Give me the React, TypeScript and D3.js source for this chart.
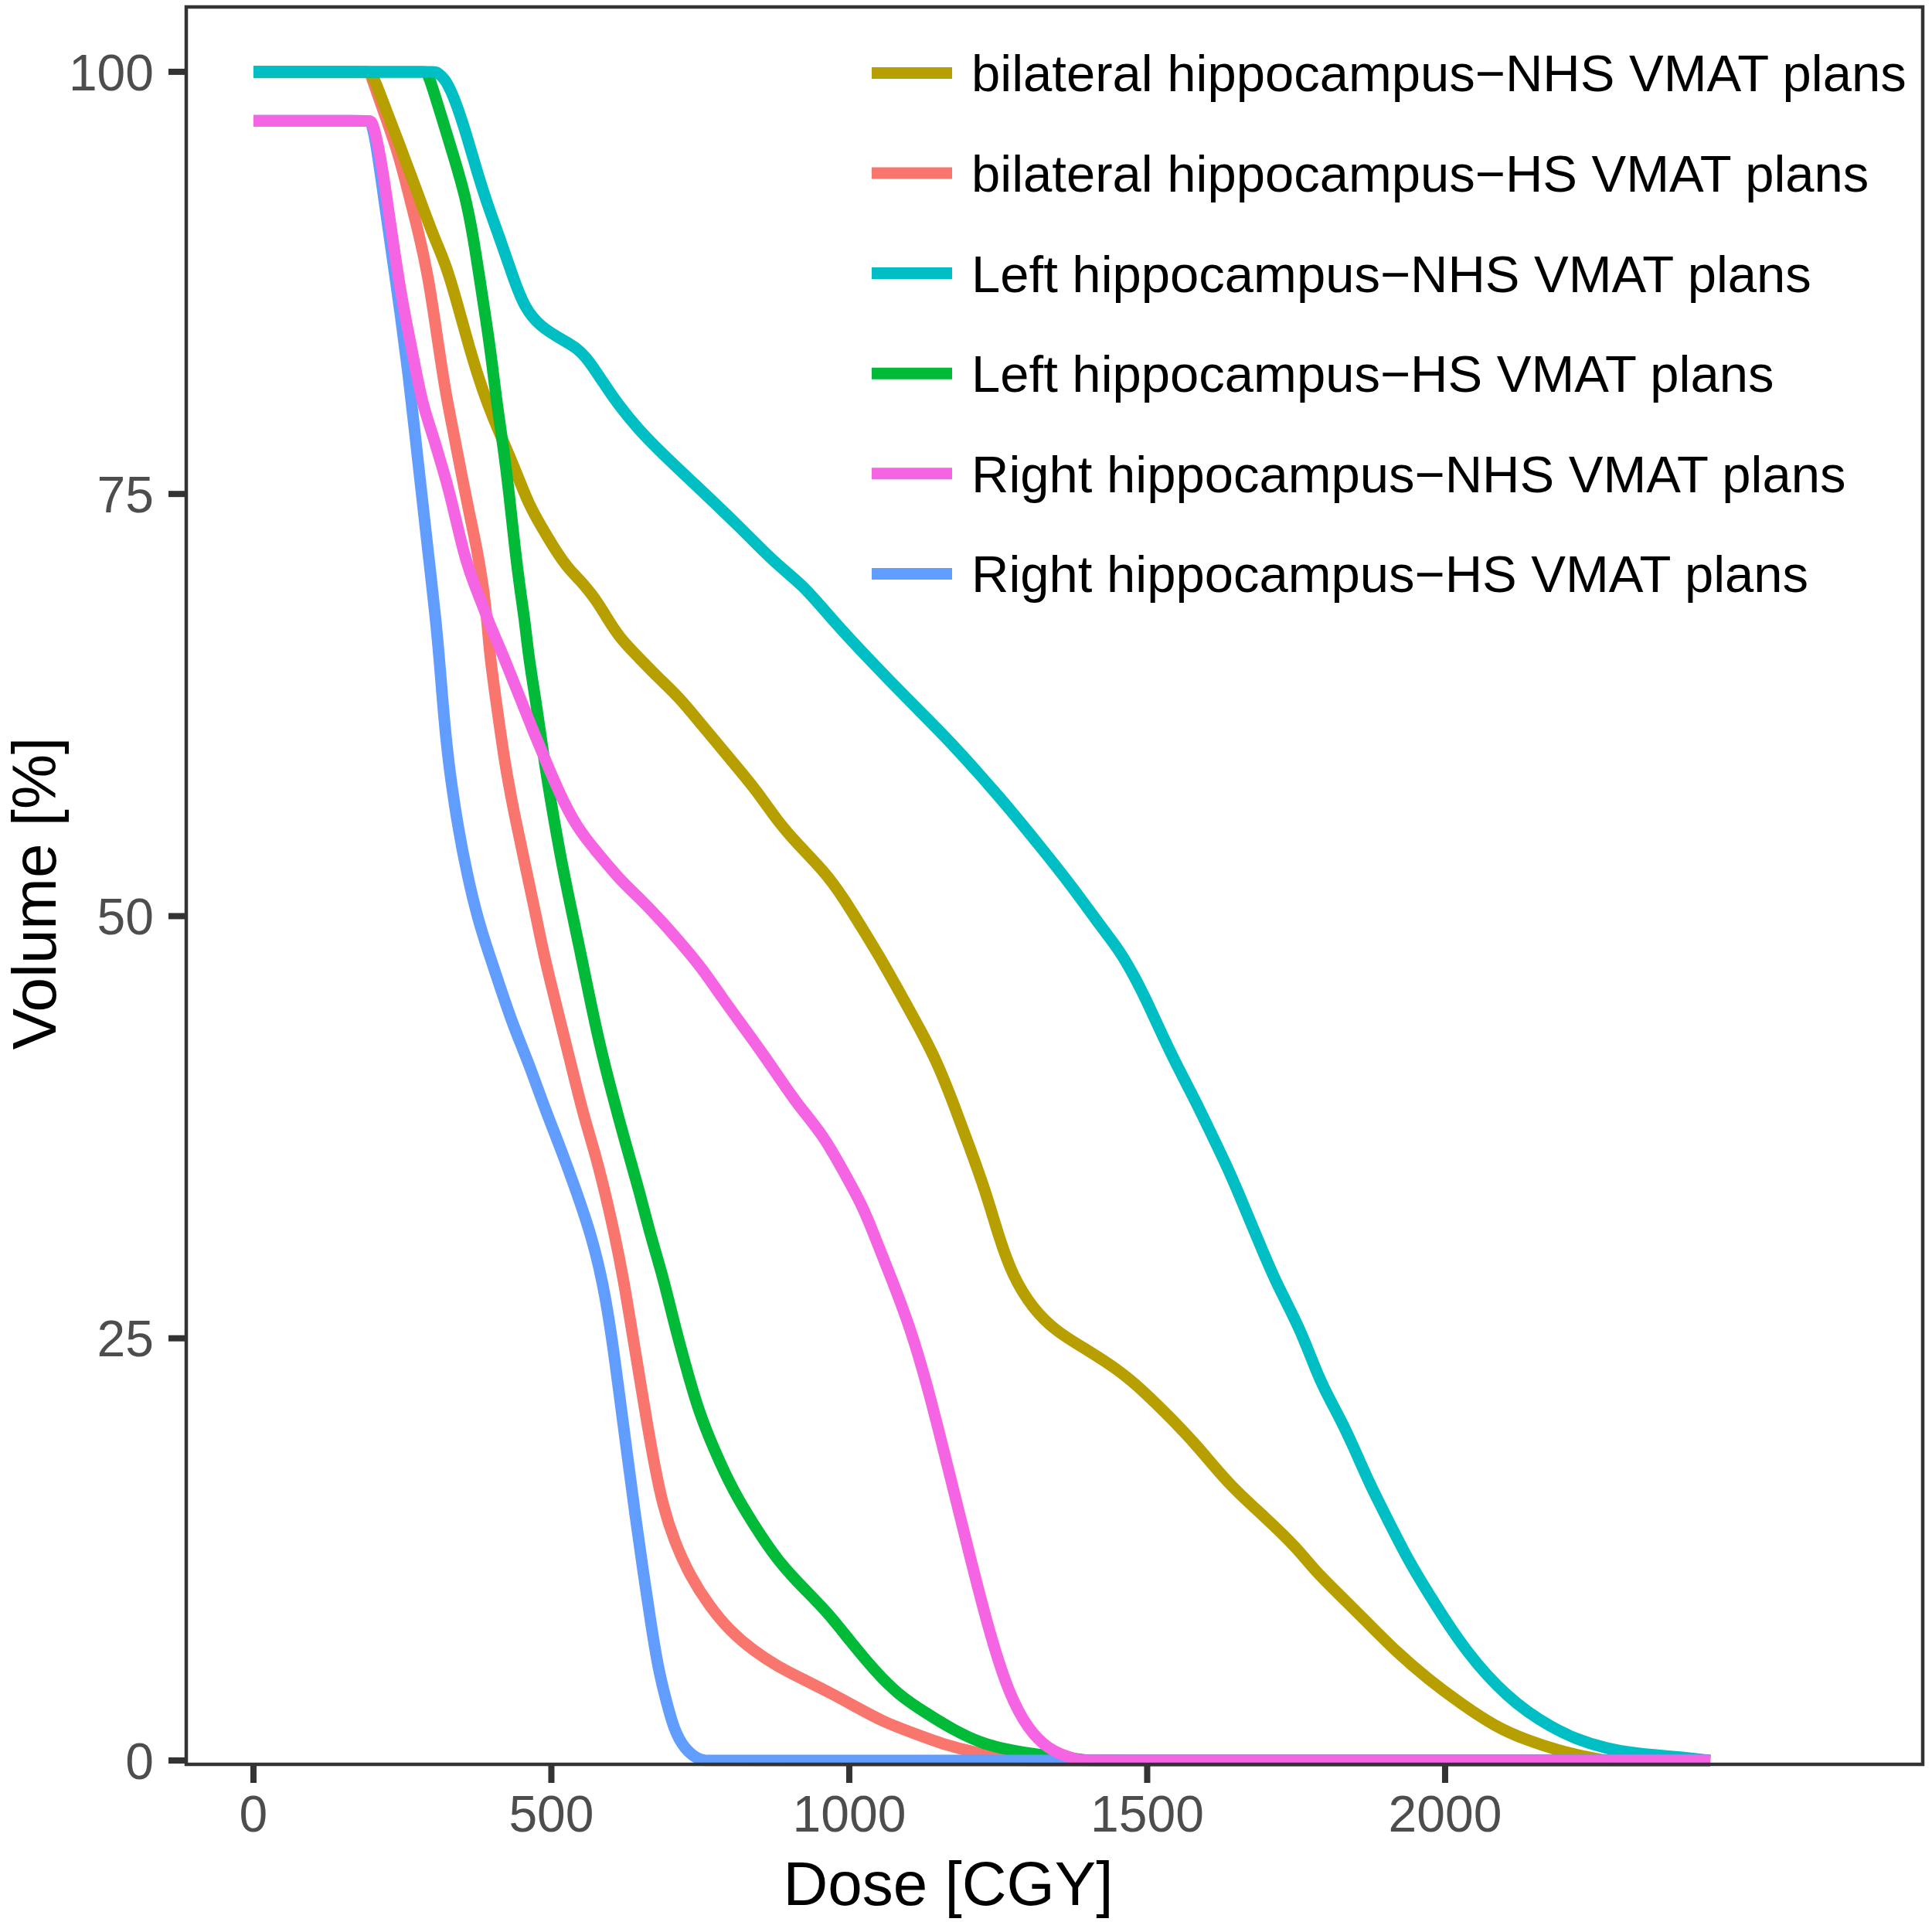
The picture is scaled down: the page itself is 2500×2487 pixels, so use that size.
import * as d3 from 'd3';

type Pt = [number, number];

// dose [cGy], volume [%]
const bilateralHS: Pt[] = [
  [0, 100], [195, 100], [220, 97.5], [240, 95.5], [254, 93.7], [266, 92.0], [279, 90.2], [293, 87.9],
  [303, 85.6], [313, 83.2], [323, 80.9], [336, 78.6], [349, 76.2], [362, 73.9], [376, 71.6],
  [386, 69.4], [392, 67.6], [397, 65.3], [409, 62.3], [422, 59.0], [438, 56.0], [455, 53.2],
  [472, 50.4], [488, 47.6], [505, 45.2], [521, 42.9], [538, 40.5], [554, 38.2], [574, 35.9],
  [591, 33.5], [607, 31.0], [620, 28.7], [634, 25.7], [647, 22.9], [660, 20.1], [673, 17.5],
  [687, 15.1], [706, 13.0], [733, 10.9], [766, 9.1], [799, 7.7], [839, 6.5], [878, 5.6],
  [923, 4.8], [963, 4.1], [1010, 3.2], [1056, 2.3], [1109, 1.6], [1162, 0.9], [1215, 0.44],
  [1254, 0.2], [1290, 0], [2445, 0],
];

const bilateralNHS: Pt[] = [
  [0, 100], [195, 100], [203, 99.6], [223, 97.7], [243, 95.9], [263, 94.0], [283, 92.1],
  [303, 90.2], [323, 88.6], [342, 86.3], [362, 83.7], [382, 81.4], [402, 79.5], [422, 77.9],
  [442, 76.2], [462, 74.4], [481, 73.2], [508, 71.6], [528, 70.6], [548, 69.9], [574, 68.8],
  [591, 67.8], [614, 66.5], [647, 65.3], [680, 64.1], [713, 63.0], [746, 61.6], [779, 60.2],
  [812, 58.8], [845, 57.4], [878, 55.7], [912, 54.3], [957, 52.7], [990, 51.1], [1023, 49.2],
  [1056, 47.3], [1089, 45.2], [1122, 43.1], [1148, 41.3], [1175, 38.9], [1201, 36.4],
  [1228, 33.8], [1251, 31.0], [1274, 28.7], [1307, 26.8], [1347, 25.4], [1400, 24.3],
  [1453, 23.1], [1493, 21.9], [1539, 20.3], [1585, 18.6], [1638, 16.3], [1698, 14.4],
  [1751, 12.6], [1780, 11.3], [1820, 9.9], [1866, 8.3], [1919, 6.4], [1972, 4.8], [2025, 3.4],
  [2084, 2.0], [2137, 1.2], [2190, 0.6], [2230, 0.25], [2270, 0], [2445, 0],
];

const leftHS: Pt[] = [
  [0, 100], [290, 100], [296, 99.6], [316, 97.3], [336, 95.0], [356, 92.6], [369, 90.2],
  [379, 87.9], [389, 85.6], [399, 83.2], [409, 80.2], [419, 77.9], [429, 75.1], [438, 72.0],
  [448, 69.2], [455, 67.6], [462, 65.3], [475, 62.5], [488, 59.2], [501, 56.4], [515, 53.6],
  [531, 50.8], [548, 48.0], [564, 45.2], [581, 42.4], [601, 39.6], [624, 36.6], [647, 33.8],
  [667, 31.0], [687, 28.7], [706, 25.9], [726, 23.3], [746, 20.8], [773, 18.4], [806, 15.9],
  [839, 14.0], [878, 11.9], [923, 10.2], [963, 8.8], [1003, 7.0], [1043, 5.3], [1082, 3.9],
  [1129, 2.8], [1175, 1.8], [1228, 0.9], [1294, 0.44], [1360, 0.2], [1400, 0], [2445, 0],
];

const leftNHS: Pt[] = [
  [0, 100], [306, 100], [323, 99.6], [342, 98.0], [359, 96.1], [376, 94.0], [395, 91.9],
  [415, 90.0], [435, 87.9], [455, 86.0], [482, 84.9], [515, 84.2], [541, 83.7], [561, 83.0],
  [587, 81.6], [614, 80.2], [647, 78.8], [680, 77.6], [746, 75.4], [812, 73.2], [878, 70.8],
  [923, 69.6], [970, 67.6], [1036, 65.1], [1102, 62.7], [1162, 60.6], [1221, 58.3],
  [1268, 56.4], [1321, 54.1], [1373, 51.8], [1426, 49.2], [1453, 48.0], [1479, 46.4],
  [1499, 45.0], [1526, 42.9], [1552, 41.0], [1579, 39.2], [1605, 37.3], [1631, 35.4],
  [1651, 33.8], [1684, 31.0], [1717, 28.2], [1757, 25.6], [1790, 22.4], [1822, 20.4],
  [1846, 18.6], [1873, 16.4], [1906, 14.1], [1939, 11.8], [1972, 9.9], [2005, 8.05],
  [2038, 6.4], [2071, 5.0], [2104, 3.85], [2137, 2.9], [2177, 2.0], [2217, 1.3], [2270, 0.7],
  [2323, 0.4], [2382, 0.24], [2420, 0.1], [2445, 0],
];

const rightHS: Pt[] = [
  [0, 97.1], [197, 97.1], [205, 96.0], [215, 93.5], [230, 89.8], [247, 85.6], [260, 82.1],
  [271, 78.6], [282, 75.1], [293, 71.6], [306, 67.6], [313, 64.8], [320, 61.6], [329, 58.6],
  [343, 55.3], [359, 52.4], [376, 49.9], [395, 47.8], [415, 45.7], [435, 43.6], [462, 41.3],
  [488, 38.7], [515, 36.3], [541, 33.8], [568, 31.0], [587, 28.2], [601, 25.2], [614, 21.7],
  [627, 18.2], [640, 14.7], [654, 11.2], [667, 8.1], [680, 5.3], [693, 3.5], [706, 1.8],
  [723, 0.7], [746, 0.05], [760, 0], [2445, 0],
];

const rightNHS: Pt[] = [
  [0, 97.1], [197, 97.1], [204, 96.6], [217, 94.2], [227, 91.7], [237, 89.3], [247, 87.0],
  [257, 85.1], [270, 82.8], [283, 80.4], [300, 78.6], [316, 76.7], [329, 75.1], [343, 73.0],
  [356, 71.1], [372, 69.5], [386, 68.3], [397, 67.2], [415, 65.8], [442, 63.4], [468, 61.1],
  [495, 58.8], [521, 56.7], [548, 55.0], [581, 53.6], [614, 52.2], [647, 51.1], [680, 49.9],
  [720, 48.3], [753, 46.9], [786, 45.2], [819, 43.6], [852, 42.0], [885, 40.3], [912, 38.9],
  [957, 37.0], [990, 34.9], [1023, 32.8], [1043, 31.0], [1069, 28.7], [1102, 25.7],
  [1135, 21.7], [1168, 17.0], [1201, 12.3], [1234, 7.7], [1268, 3.9], [1301, 1.8],
  [1334, 0.67], [1367, 0.2], [1390, 0], [2445, 0],
];

// drawing order follows the factor levels (ggplot default hue palette)
const drawOrder = [
  { key: 'bHS', values: bilateralHS, color: '#F8766D' },
  { key: 'bNHS', values: bilateralNHS, color: '#B79F00' },
  { key: 'lHS', values: leftHS, color: '#00BA38' },
  { key: 'lNHS', values: leftNHS, color: '#00BFC4' },
  { key: 'rHS', values: rightHS, color: '#619CFF' },
  { key: 'rNHS', values: rightNHS, color: '#F564E3' },
];

const legendLabels = [
  'bilateral hippocampus\u2212NHS VMAT plans',
  'bilateral hippocampus\u2212HS VMAT plans',
  'Left hippocampus\u2212NHS VMAT plans',
  'Left hippocampus\u2212HS VMAT plans',
  'Right hippocampus\u2212NHS VMAT plans',
  'Right hippocampus\u2212HS VMAT plans',
];
const legendColors = ['#B79F00', '#F8766D', '#00BFC4', '#00BA38', '#F564E3', '#619CFF'];

const xTicks = [0, 500, 1000, 1500, 2000];
const yTicks = [0, 25, 50, 75, 100];

const W = 2500;
const H = 2487;
const panel = { left: 241, right: 2488, top: 9, bottom: 2283 };
const font = "'Liberation Sans', Arial, Helvetica, sans-serif";

// repeat the ends of flat stretches so the smoothing keeps the corners tight
function withCorners(pts: Pt[]): Pt[] {
  const out: Pt[] = [];
  pts.forEach((p, i) => {
    out.push(p);
    const prev = pts[i - 1];
    const next = pts[i + 1];
    if (prev && next && (prev[1] === p[1] || next[1] === p[1])) out.push(p);
  });
  return out;
}

export default function App() {
  const x = d3.scaleLinear().domain([-112.8, 2801.6]).range([panel.left, panel.right]);
  const y = d3.scaleLinear().domain([-0.23, 103.84]).range([panel.bottom, panel.top]);

  const line = d3
    .line<Pt>()
    .x((d) => x(d[0]))
    .y((d) => y(d[1]))
    .curve(d3.curveBasis);

  const tickFs = 66;
  const legendFs = 67;
  const titleFs = 80;

  return (
    <svg
      width={W}
      height={H}
      viewBox={`0 0 ${W} ${H}`}
      style={{ position: 'absolute', left: 0, top: 0, background: '#fff' }}
      fontFamily={font}
    >
      <rect x={0} y={0} width={W} height={H} fill="#fff" />

      {drawOrder.map((s) => (
        <path
          key={s.key}
          d={line(withCorners(s.values)) ?? ''}
          fill="none"
          stroke={s.color}
          strokeWidth={15}
          strokeLinejoin="round"
          strokeLinecap="butt"
        />
      ))}

      <rect
        x={panel.left}
        y={panel.top}
        width={panel.right - panel.left}
        height={panel.bottom - panel.top}
        fill="none"
        stroke="#333333"
        strokeWidth={4.5}
      />

      {yTicks.map((t) => (
        <g key={`y${t}`}>
          <line x1={panel.left - 23} x2={panel.left} y1={y(t)} y2={y(t)} stroke="#333333" strokeWidth={8} />
          <text
            x={199}
            y={y(t) + tickFs * 0.36}
            textAnchor="end"
            fontSize={tickFs}
            fill="#4D4D4D"
          >
            {t}
          </text>
        </g>
      ))}

      {xTicks.map((t) => (
        <g key={`x${t}`}>
          <line x1={x(t)} x2={x(t)} y1={panel.bottom} y2={panel.bottom + 24} stroke="#333333" strokeWidth={8} />
          <text x={x(t)} y={2370} textAnchor="middle" fontSize={tickFs} fill="#4D4D4D">
            {t}
          </text>
        </g>
      ))}

      <text x={1227} y={2465} textAnchor="middle" fontSize={titleFs} fill="#000">
        Dose [CGY]
      </text>
      <text
        transform="translate(72,1156) rotate(-90)"
        textAnchor="middle"
        fontSize={titleFs}
        fill="#000"
      >
        Volume [%]
      </text>

      {legendLabels.map((label, i) => {
        const cy = 94.4 + i * 129.6;
        return (
          <g key={label}>
            <line x1={1128} x2={1232} y1={cy} y2={cy} stroke={legendColors[i]} strokeWidth={15} />
            <text x={1257} y={cy + legendFs * 0.357} fontSize={legendFs} fill="#000">
              {label}
            </text>
          </g>
        );
      })}
    </svg>
  );
}
